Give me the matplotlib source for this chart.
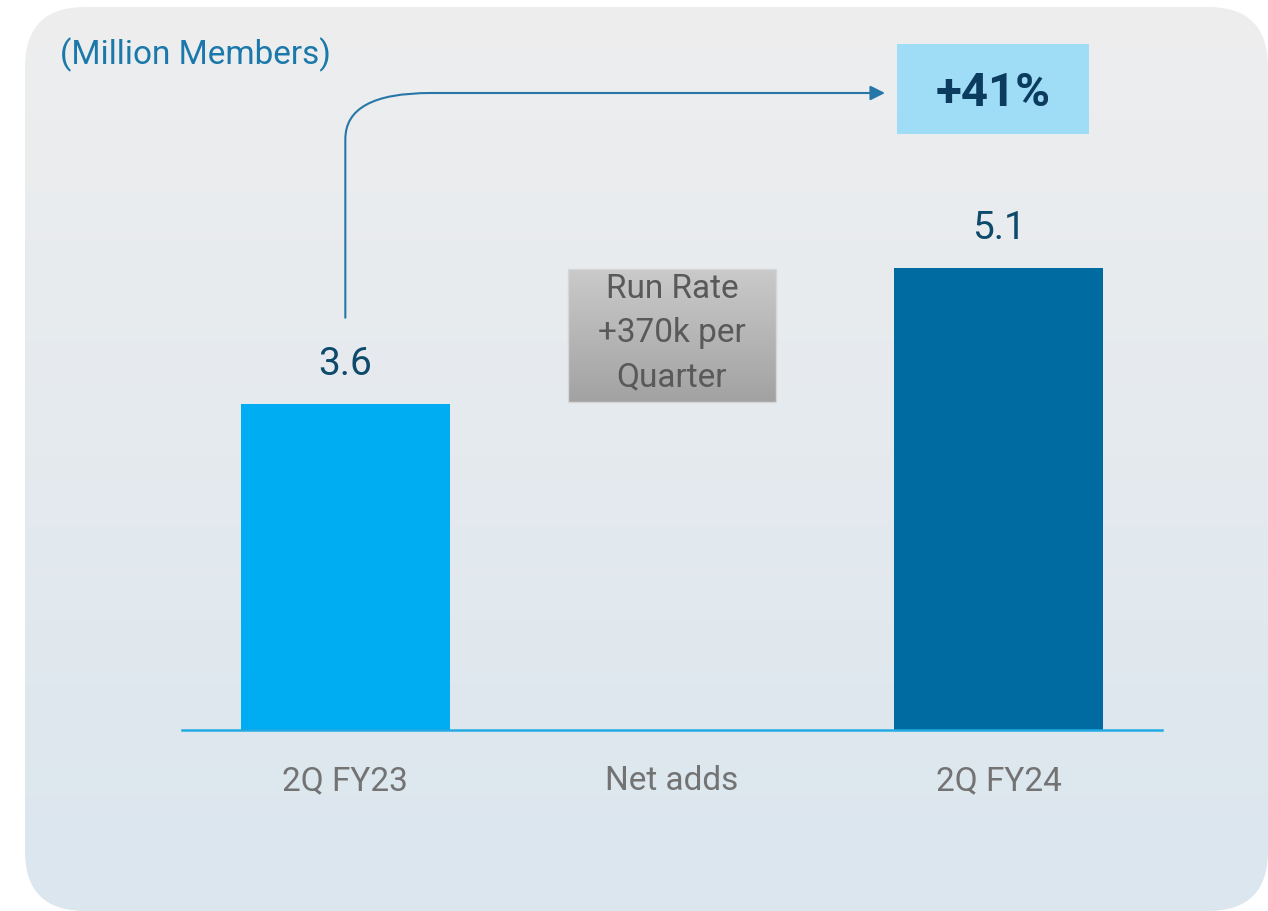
import numpy as np
import matplotlib
matplotlib.use("Agg")
import matplotlib.pyplot as plt
from matplotlib.patches import FancyBboxPatch, FancyArrowPatch, Rectangle
from matplotlib.path import Path

plt.rcParams['font.family'] = ['Roboto', 'DejaVu Sans']

# Data
categories = ["2Q FY23", "Net adds", "2Q FY24"]
values = [3.6, 0, 5.1]
value_labels = ["3.6", "", "5.1"]
bar_colors = ["#00adf2", "none", "#006ba1"]
growth_label = "+41%"
note_lines = ["Run Rate", "+370k per", "Quarter"]
unit_label = "(Million Members)"

W, H = 1268, 912
fig = plt.figure(figsize=(W / 100, H / 100), dpi=100)
fig.patch.set_facecolor("white")

# Background panel in pixel coordinates
bg = fig.add_axes([0, 0, 1, 1], zorder=0)
bg.set_xlim(0, W)
bg.set_ylim(H, 0)
bg.axis("off")

panel = FancyBboxPatch((25 + 60, 8 + 60), W - 25 - 120, H - 8 - 120,
                       boxstyle="round,pad=60", facecolor="none", edgecolor="none")
bg.add_patch(panel)
grad = np.linspace(0, 1, 256).reshape(-1, 1)
top_c = np.array([0xee, 0xee, 0xee]) / 255
bot_c = np.array([0xdb, 0xe6, 0xee]) / 255
img = top_c + (bot_c - top_c) * grad[..., None]
im = bg.imshow(img, extent=[0, W, H, 0], aspect="auto", zorder=0)
im.set_clip_path(panel)

# Gray run-rate box with gradient
gx0, gy0, gx1, gy1 = 568, 270, 776, 403
gtop = np.array([0xca, 0xca, 0xca]) / 255
gbot = np.array([0xa2, 0xa2, 0xa2]) / 255
gimg = gtop + (gbot - gtop) * grad[..., None]
bg.imshow(gimg, extent=[gx0, gx1, gy1, gy0], aspect="auto", zorder=1)
bg.add_patch(Rectangle((gx0, gy0), gx1 - gx0, gy1 - gy0, facecolor="none",
                       edgecolor="#d6d6d6", lw=1, zorder=2))
for i, line in enumerate(note_lines):
    bg.text((gx0 + gx1) / 2, 289 + i * 44, line, ha="center", va="center",
            fontsize=24, color="#595959", zorder=3)

# +41% box
bg.add_patch(Rectangle((897, 45), 192, 90, facecolor="#9fdcf5", edgecolor="none", zorder=1))
bg.text(993, 93, growth_label, ha="center", va="center", fontsize=34,
        fontweight="bold", color="#0b3b5f", zorder=3)

# Unit label
bg.text(60, 55, unit_label, ha="left", va="center", fontsize=24, color="#1a78aa")

# Data axes
px_per_unit = 90.6
ax = fig.add_axes([182 / W, (H - 731) / H, 980 / W, 731 / H], zorder=2)
ax.set_xlim(-0.5, 2.5)
ax.set_ylim(0, 731 / px_per_unit)
ax.patch.set_alpha(0)
for s in ax.spines.values():
    s.set_visible(False)
ax.set_xticks([])
ax.set_yticks([])

x = np.arange(len(categories))
ax.bar(x, values, width=0.64, color=bar_colors, zorder=2)
ax.axhline(0, color="#22aae3", lw=1.8, zorder=3, clip_on=False)

for xi, v, lab in zip(x, values, value_labels):
    if lab:
        ax.text(xi, v + 0.45, lab, ha="center", va="center", fontsize=28, color="#0d4a6b")
for xi, cat in zip(x, categories):
    ax.text(xi, -0.55, cat, ha="center", va="center", fontsize=24, color="#737373")

# Curved growth arrow from first bar to the +41% box
ax.figure.canvas.draw()
x_start = ax.transData.transform((x[0], values[0] + 0.95))
sx = x_start[0]
sy = H - x_start[1]
verts = [(sx, sy), (sx, 140), (sx, 94), (sx + 85, 94), (885, 94)]
codes = [Path.MOVETO, Path.LINETO, Path.CURVE3, Path.CURVE3, Path.LINETO]
arrow = FancyArrowPatch(path=Path(verts, codes), arrowstyle="-|>", mutation_scale=22,
                        color="#2677a8", lw=1.5, zorder=3)
bg.add_patch(arrow)

fig.savefig("out.png", dpi=100, facecolor="white")
